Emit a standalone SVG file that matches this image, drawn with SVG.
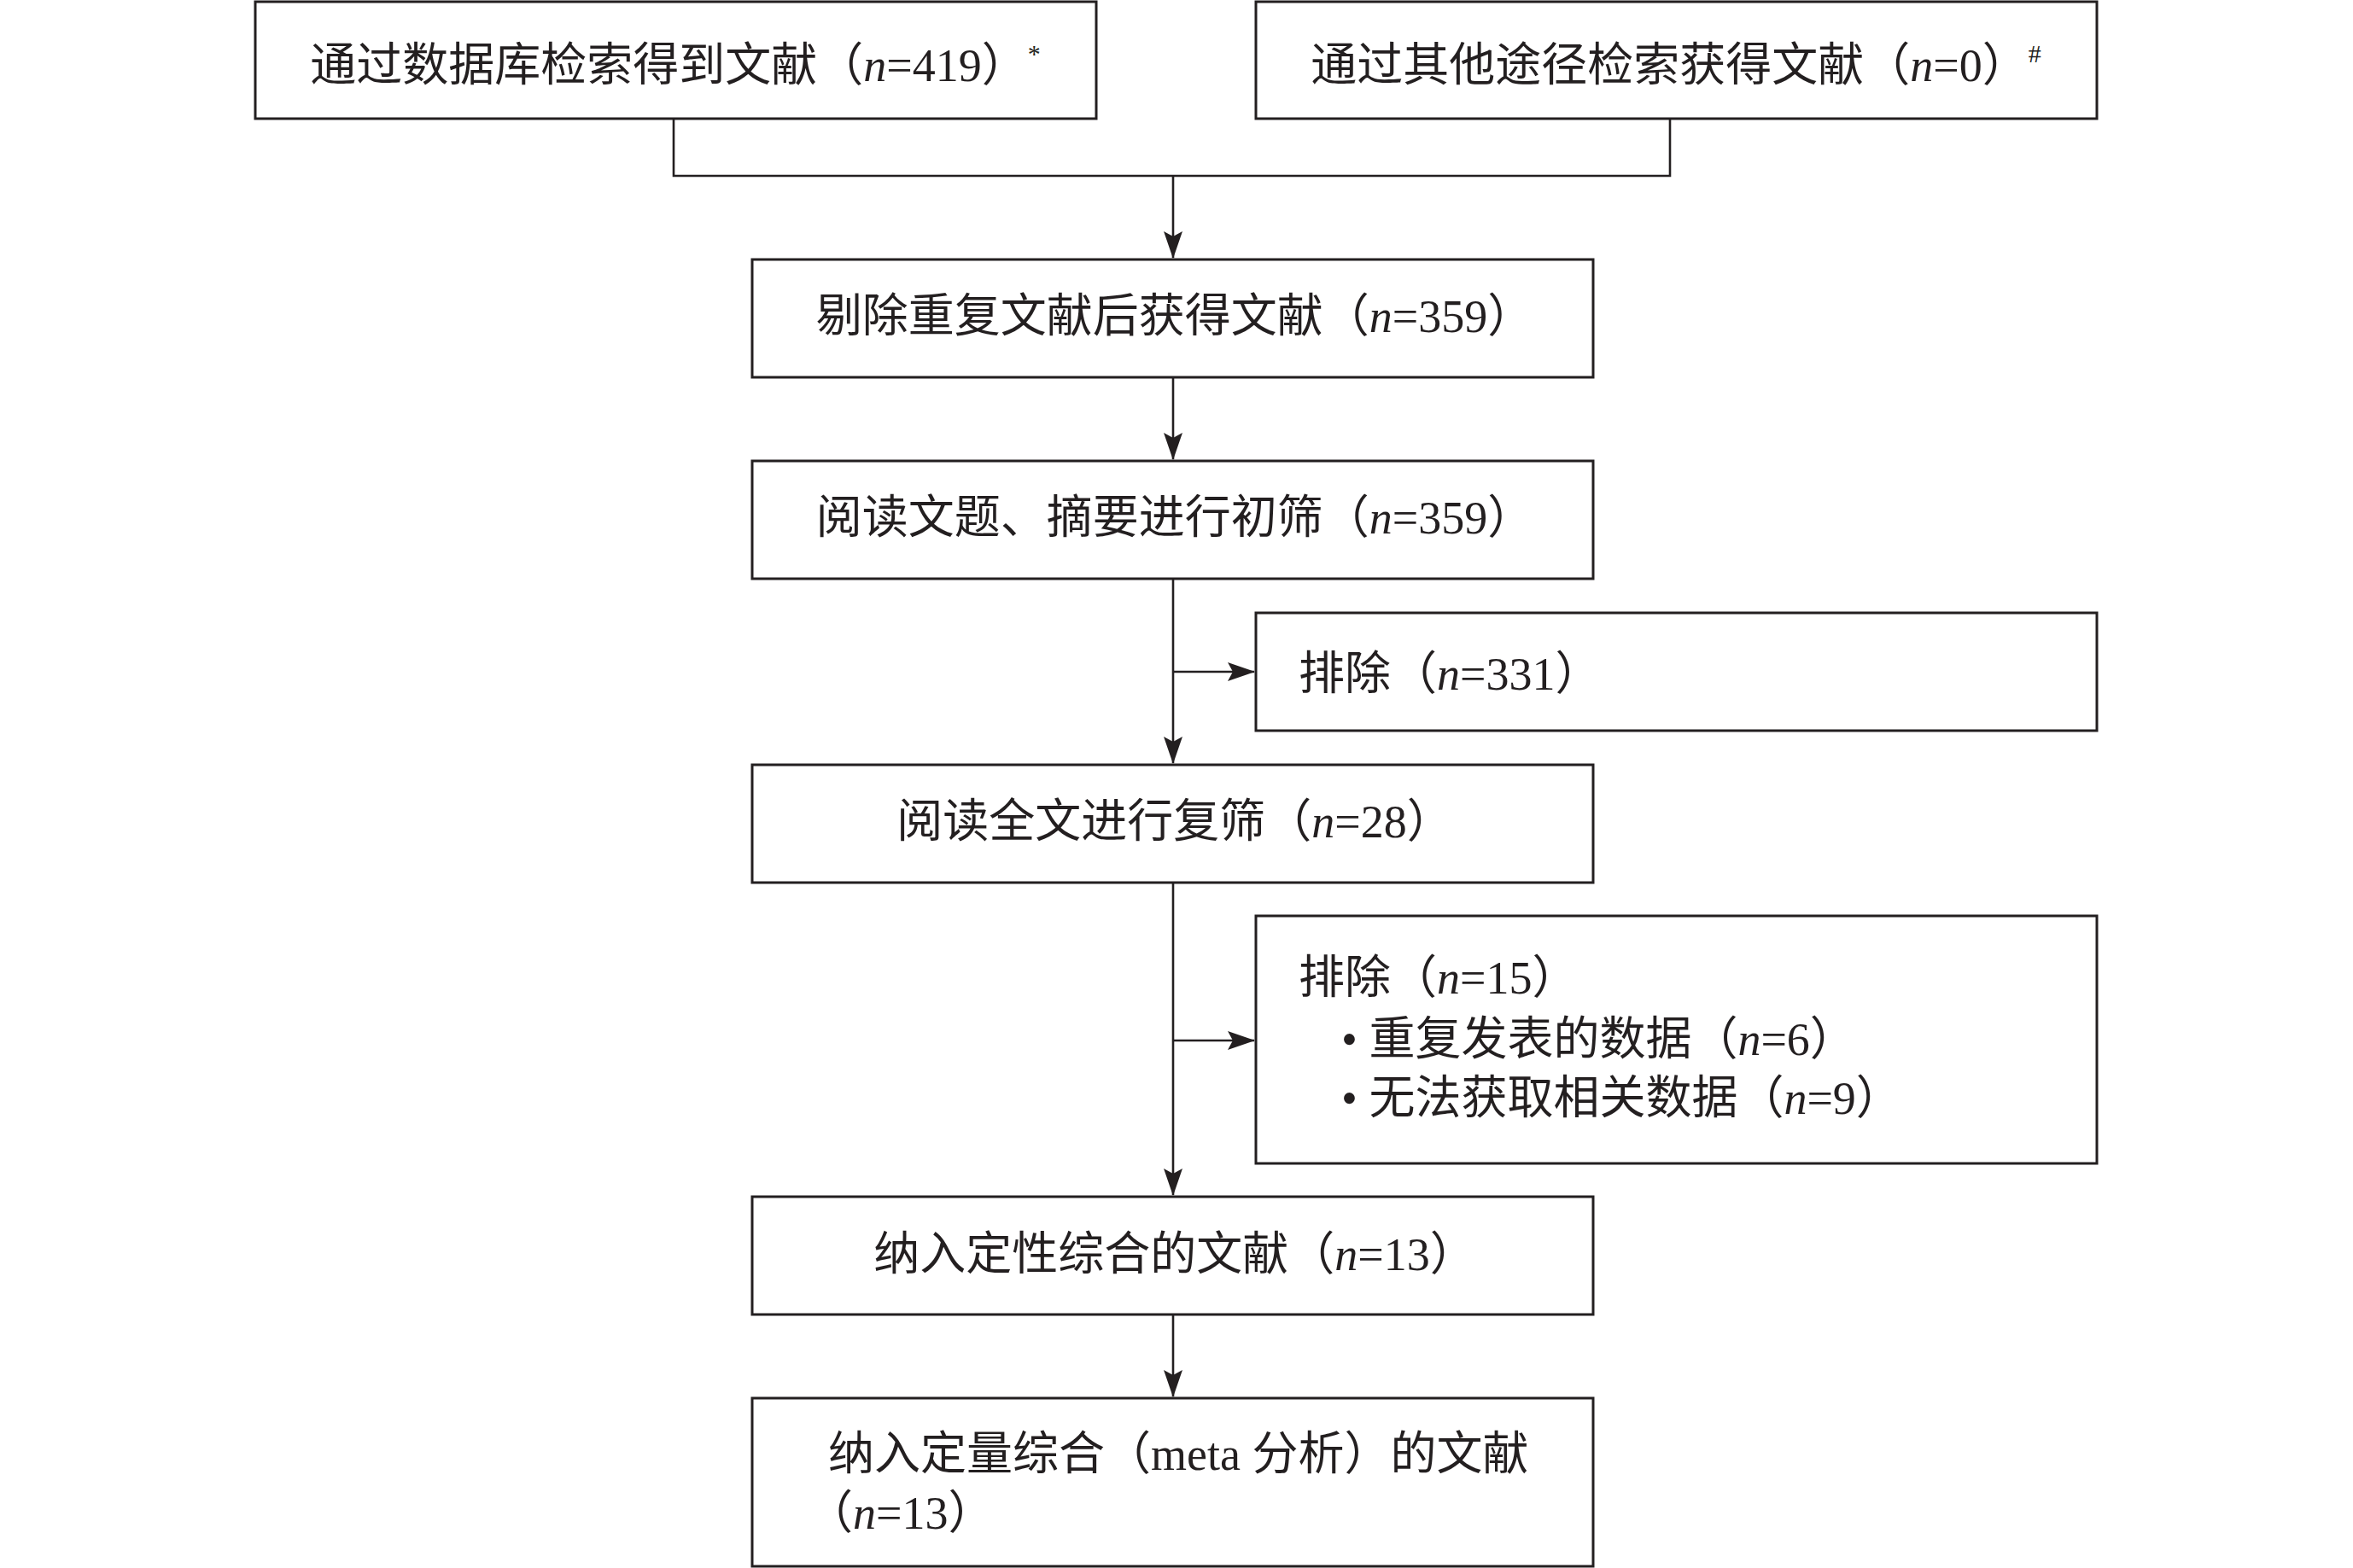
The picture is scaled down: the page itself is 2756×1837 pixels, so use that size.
<svg xmlns="http://www.w3.org/2000/svg" width="2756" height="1837" viewBox="0 0 2756 1837">
<style>
.box{fill:#fff;stroke:#231f20;stroke-width:3}
.ln{fill:none;stroke:#231f20;stroke-width:2.6}
.t{font-family:"Liberation Serif","Noto Sans CJK SC",serif;font-size:54px;fill:#231f20}
.c{text-anchor:middle}
.i{font-style:italic}
.sup{font-size:30px}
</style>
<defs>
<marker id="arr" viewBox="0 0 32 22" refX="31" refY="11" markerWidth="32" markerHeight="22" markerUnits="userSpaceOnUse" orient="auto">
<path d="M0,0 L32,11 L0,22 L6,11 z" fill="#231f20"/>
</marker>
</defs>
<rect width="2756" height="1837" fill="#fff"/>
<g id="connectors">
<path class="ln" d="M789,139 V206 H1956 V139"/>
<path class="ln" d="M1374,206 V302" marker-end="url(#arr)"/>
<path class="ln" d="M1374,442 V538" marker-end="url(#arr)"/>
<path class="ln" d="M1374,678 V894" marker-end="url(#arr)"/>
<path class="ln" d="M1374,787 H1469" marker-end="url(#arr)"/>
<path class="ln" d="M1374,1034 V1400" marker-end="url(#arr)"/>
<path class="ln" d="M1374,1219 H1469" marker-end="url(#arr)"/>
<path class="ln" d="M1374,1540 V1636" marker-end="url(#arr)"/>
</g>
<g id="n1">
<rect class="box" x="299" y="2" width="985" height="137"/>
<text class="t c" x="791" y="95">通过数据库检索得到文献（<tspan class="i">n</tspan>=419）<tspan class="sup" dy="-22">*</tspan></text>
</g>
<g id="n2">
<rect class="box" x="1471" y="2" width="985" height="137"/>
<text class="t c" x="1963" y="95">通过其他途径检索获得文献（<tspan class="i">n</tspan>=0）<tspan class="sup" dy="-22">#</tspan></text>
</g>
<g id="n3">
<rect class="box" x="881" y="304" width="985" height="138"/>
<text class="t c" x="1376" y="389">剔除重复文献后获得文献（<tspan class="i">n</tspan>=359）</text>
</g>
<g id="n4">
<rect class="box" x="881" y="540" width="985" height="138"/>
<text class="t c" x="1376" y="625">阅读文题、摘要进行初筛（<tspan class="i">n</tspan>=359）</text>
</g>
<g id="n5">
<rect class="box" x="1471" y="718" width="985" height="138"/>
<text class="t" x="1521" y="808">排除（<tspan class="i">n</tspan>=331）</text>
</g>
<g id="n6">
<rect class="box" x="881" y="896" width="985" height="138"/>
<text class="t c" x="1376" y="981">阅读全文进行复筛（<tspan class="i">n</tspan>=28）</text>
</g>
<g id="n7">
<rect class="box" x="1471" y="1073" width="985" height="290"/>
<text class="t" x="1521" y="1164">排除（<tspan class="i">n</tspan>=15）</text>
<text class="t" x="1571" y="1236">• 重复发表的数据（<tspan class="i">n</tspan>=6）</text>
<text class="t" x="1571" y="1305">• 无法获取相关数据（<tspan class="i">n</tspan>=9）</text>
</g>
<g id="n8">
<rect class="box" x="881" y="1402" width="985" height="138"/>
<text class="t c" x="1376" y="1488">纳入定性综合的文献（<tspan class="i">n</tspan>=13）</text>
</g>
<g id="n9">
<rect class="box" x="881" y="1638" width="985" height="197"/>
<text class="t" x="970" y="1722">纳入定量综合（meta 分析）的文献</text>
<text class="t" x="945" y="1791">（<tspan class="i">n</tspan>=13）</text>
</g>
</svg>
